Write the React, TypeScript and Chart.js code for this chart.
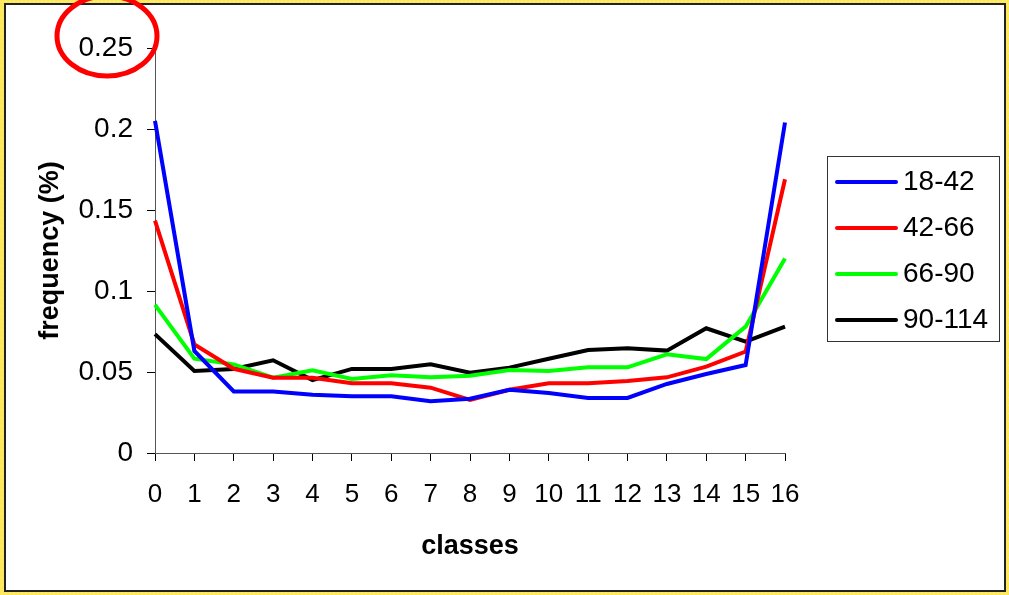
import React, { useEffect, useRef } from "react";
import { Chart, registerables } from "chart.js";

Chart.register(...registerables);

const classes = ["0", "1", "2", "3", "4", "5", "6", "7", "8", "9", "10", "11", "12", "13", "14", "15", "16"];
const seriesLabels = ["18-42", "42-66", "66-90", "90-114"];
const seriesColors = ["#0000FF", "#FF0000", "#00FF00", "#000000"];
const age18to42 = [0.205, 0.063, 0.038, 0.038, 0.036, 0.035, 0.035, 0.032, 0.0335, 0.039, 0.037, 0.034, 0.034, 0.0426, 0.0488, 0.0543, 0.204];
const age42to66 = [0.1434, 0.067, 0.052, 0.0465, 0.0465, 0.043, 0.043, 0.0403, 0.0327, 0.039, 0.043, 0.043, 0.0444, 0.0467, 0.0533, 0.0626, 0.169];
const age66to90 = [0.0914, 0.0582, 0.0547, 0.0465, 0.051, 0.0457, 0.048, 0.0467, 0.0477, 0.0512, 0.0506, 0.0529, 0.0529, 0.0609, 0.058, 0.078, 0.12];
const age90to114 = [0.0734, 0.0506, 0.0519, 0.0572, 0.045, 0.0519, 0.0519, 0.0547, 0.0496, 0.0527, 0.0582, 0.0636, 0.0646, 0.0632, 0.077, 0.0687, 0.078];
const yTickValues = [0, 0.05, 0.1, 0.15, 0.2, 0.25];

const FONT = "'Liberation Sans', Arial, sans-serif";

const framePlugin = {
  id: "frame",
  beforeDraw(chart: any) {
    const ctx = chart.ctx;
    const W = chart.width;
    const H = chart.height;
    ctx.save();
    ctx.fillStyle = "#FCE85A";
    ctx.fillRect(0, 0, W, H);
    ctx.fillStyle = "#FFF6A8";
    for (let y = 1; y < H; y += 4) {
      for (let x = ((y / 4) % 2) * 2 + 1; x < W; x += 4) {
        ctx.fillRect(x, y, 1, 1);
      }
    }
    ctx.fillStyle = "#FFFFFF";
    ctx.fillRect(5, 4, W - 8, H - 7);
    ctx.strokeStyle = "#222222";
    ctx.lineWidth = 2;
    ctx.strokeRect(5, 4, W - 9, H - 8);
    ctx.restore();
  },
};

const legendPlugin = {
  id: "customLegend",
  afterDraw(chart: any) {
    const ctx = chart.ctx;
    ctx.save();
    const x0 = 827, y0 = 156, w = 172, h = 185;
    ctx.fillStyle = "#FFFFFF";
    ctx.fillRect(x0, y0, w, h);
    ctx.strokeStyle = "#333333";
    ctx.lineWidth = 1;
    ctx.strokeRect(x0 + 0.5, y0 + 0.5, w, h);
    chart.data.datasets.forEach((ds: any, i: number) => {
      const y = 182 + i * 46;
      ctx.strokeStyle = ds.borderColor;
      ctx.lineWidth = 4;
      ctx.lineCap = "round";
      ctx.beginPath();
      ctx.moveTo(837, y);
      ctx.lineTo(896, y);
      ctx.stroke();
      ctx.fillStyle = "#000000";
      ctx.font = `28px ${FONT}`;
      ctx.textBaseline = "middle";
      ctx.textAlign = "left";
      ctx.fillText(ds.label, 903, y);
    });
    ctx.restore();
  },
};

const circlePlugin = {
  id: "circleMark",
  afterDraw(chart: any) {
    const ctx = chart.ctx;
    ctx.save();
    ctx.strokeStyle = "#FF0000";
    ctx.lineWidth = 5;
    ctx.beginPath();
    ctx.ellipse(107, 36, 50, 40, 0, 0, Math.PI * 2);
    ctx.stroke();
    ctx.restore();
  },
};

export default function App() {
  const ref = useRef<HTMLCanvasElement | null>(null);

  useEffect(() => {
    document.body.style.margin = "0";
    const canvas = ref.current;
    if (!canvas) return;
    const dataSeries = [age18to42, age42to66, age66to90, age90to114];
    const chart = new Chart(canvas, {
      type: "line",
      data: {
        labels: classes,
        datasets: dataSeries.map((d, i) => ({
          label: seriesLabels[i],
          data: d,
          borderColor: seriesColors[i],
          backgroundColor: seriesColors[i],
          borderWidth: 4,
          pointRadius: 0,
          tension: 0,
          fill: false,
        })),
      },
      options: {
        animation: false,
        responsive: false,
        devicePixelRatio: 1,
        layout: { padding: { top: 48, right: 224, bottom: 0, left: 0 } },
        plugins: {
          legend: { display: false },
          tooltip: { enabled: false },
        },
        scales: {
          x: {
            type: "category",
            offset: false,
            grid: { display: true, drawOnChartArea: false, drawTicks: true, tickLength: 8, color: "#000000" },
            border: { display: true, color: "#555555", width: 1 },
            ticks: {
              color: "#000000",
              font: { family: FONT, size: 26 },
              padding: 18,
              maxRotation: 0,
              autoSkip: false,
            },
            title: {
              display: true,
              text: "classes",
              color: "#000000",
              font: { family: FONT, size: 27, weight: "bold" },
              padding: { top: 0, bottom: 32 },
            },
            afterFit: (scale: any) => {
              scale.height = 142;
            },
          },
          y: {
            min: 0,
            max: 0.25,
            afterBuildTicks: (scale: any) => {
              scale.ticks = yTickValues.map((v) => ({ value: v }));
            },
            grid: { display: true, drawOnChartArea: false, drawTicks: true, tickLength: 8, color: "#000000" },
            border: { display: true, color: "#555555", width: 1 },
            ticks: {
              color: "#000000",
              font: { family: FONT, size: 28 },
              padding: 14,
              callback: (v: any) => String(Number(Number(v).toFixed(2))),
            },
            title: {
              display: true,
              text: "frequency (%)",
              color: "#000000",
              font: { family: FONT, size: 27, weight: "bold" },
              padding: { top: 34, bottom: 0 },
            },
            afterFit: (scale: any) => {
              scale.width = 155;
            },
          },
        },
      },
      plugins: [framePlugin, legendPlugin, circlePlugin],
    });
    return () => chart.destroy();
  }, []);

  return (
    <div style={{ width: 1009, height: 595 }}>
      <canvas ref={ref} width={1009} height={595} style={{ display: "block" }} />
    </div>
  );
}
